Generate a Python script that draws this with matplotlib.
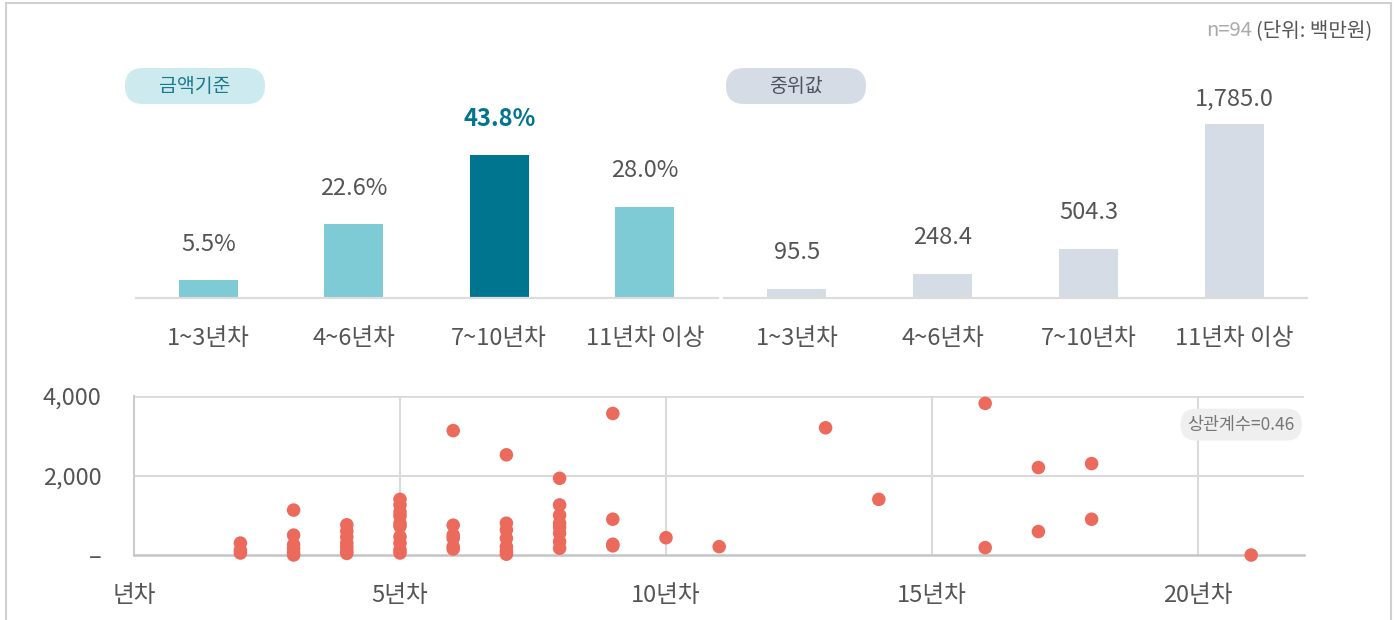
import matplotlib
matplotlib.use("Agg")
import matplotlib.pyplot as plt
from matplotlib.patches import FancyBboxPatch, Rectangle

plt.rcParams["font.family"] = ["Noto Sans CJK KR", "DejaVu Sans"]

# --- data ---
categories = ["1~3년차", "4~6년차", "7~10년차", "11년차 이상"]
share_pct = [5.5, 22.6, 43.8, 28.0]
median_amt = [95.5, 248.4, 504.3, 1785.0]
highlight_idx = 2

scatter_years = [2, 2, 2,
                 3, 3, 3, 3, 3, 3,
                 4, 4, 4, 4, 4, 4, 4,
                 5, 5, 5, 5, 5, 5, 5, 5, 5, 5,
                 6, 6, 6, 6, 6, 6,
                 7, 7, 7, 7, 7, 7, 7,
                 8, 8, 8, 8, 8, 8, 8, 8,
                 9, 9, 9, 9,
                 10, 11, 13, 14,
                 16, 16, 17, 17, 18, 18, 21]
scatter_amounts = [300, 120, 50,
                   1130, 500, 260, 160, 60, 0,
                   760, 600, 450, 300, 200, 100, 40,
                   1400, 1260, 1080, 980, 800, 720, 460, 300, 130, 50,
                   3130, 750, 500, 420, 210, 150,
                   2520, 800, 630, 420, 210, 100, 20,
                   1930, 1260, 1000, 800, 700, 545, 335, 170,
                   3560, 900, 270, 230,
                   435, 210, 3200, 1400,
                   3815, 185, 2200, 590, 2300, 900, 0]
x_ticks = [0, 5, 10, 15, 20]
x_ticklabels = ["년차", "5년차", "10년차", "15년차", "20년차"]
y_ticks = [0, 2000, 4000]
y_ticklabels = ["–", "2,000", "4,000"]
corr_text = "상관계수=0.46"

# --- style ---
W, H = 1396, 620
TEAL_LIGHT = "#7ecad5"
TEAL_DARK = "#007590"
GRAY_BAR = "#d5dce6"
DOT = "#ec6a5c"
TXT = "#555555"
GRID = "#dadada"


def rect(left, top, right, bottom):
    return [left / W, 1 - bottom / H, (right - left) / W, (bottom - top) / H]


fig = plt.figure(figsize=(W / 100, H / 100), dpi=100)
fig.patches.append(Rectangle((5.5 / W, -0.1), 1385 / W, 1.1 - 2.5 / H,
                             transform=fig.transFigure, fill=False,
                             edgecolor="#d0d0d0", linewidth=1.5))


def add_pill(left_px, text, fc, tc):
    # pill drawn in inches so the rounded ends stay circular
    pill = FancyBboxPatch((left_px / 100, (H - 104) / 100), 1.40, 0.36,
                          boxstyle="round,pad=0,rounding_size=0.18",
                          transform=fig.dpi_scale_trans, facecolor=fc, edgecolor="none")
    fig.patches.append(pill)
    fig.text((left_px + 70) / W, 1 - 86 / H, text, ha="center", va="center",
             fontsize=14, color=tc)


def bar_panel(box, values, colors, labels, ymax, label_cap, fmt, bold_idx=None):
    ax = fig.add_axes(rect(*box))
    x = range(len(values))
    ax.bar(x, values, width=0.405, color=colors)
    ax.set_xlim(-0.5, len(values) - 0.5)
    ax.set_ylim(0, ymax)
    off = ymax * 36 / 238
    for i, v in enumerate(values):
        y = min(v + off, label_cap)
        if i == bold_idx:
            ax.text(i, y, fmt(v), ha="center", va="center", fontsize=17,
                    color=TEAL_DARK, fontweight="bold")
        else:
            ax.text(i, y, fmt(v), ha="center", va="center", fontsize=17, color=TXT)
    ax.set_xticks(list(x))
    ax.set_xticklabels(labels, fontsize=17, color=TXT)
    ax.tick_params(axis="x", length=0, pad=21)
    ax.set_yticks([])
    for s in ["top", "right", "left"]:
        ax.spines[s].set_visible(False)
    ax.spines["bottom"].set_color("#dcdcdc")
    ax.spines["bottom"].set_linewidth(1.6)
    ax.patch.set_alpha(0)
    return ax


bar_colors = [TEAL_DARK if i == highlight_idx else TEAL_LIGHT for i in range(len(share_pct))]
bar_panel((135.5, 60, 717.5, 298), share_pct, bar_colors, categories, 72.9, 999,
          lambda v: f"{v:.1f}%", bold_idx=highlight_idx)
bar_panel((724, 60, 1307, 298), median_amt, [GRAY_BAR] * len(median_amt), categories, 2435, 2030,
          lambda v: f"{v:,.1f}")
add_pill(125, "금액기준", "#cdeaee", "#1a7a8e")
add_pill(726, "중위값", GRAY_BAR, "#4a5260")

unit = fig.text(1372 / W, 1 - 31 / H, "(단위: 백만원)", ha="right", va="center",
                fontsize=14.5, color=TXT)
bb = unit.get_window_extent(renderer=fig.canvas.get_renderer())
fig.text((bb.x0 - 4) / W, 1 - 31 / H, "n=94", ha="right", va="center",
         fontsize=14.5, color="#aaaaaa")

# --- scatter ---
ax = fig.add_axes(rect(134, 396, 134 + 22 * 53.2, 555))
ax.set_xlim(0, 22)
ax.set_ylim(0, 4000)
for xv in x_ticks[1:]:
    ax.axvline(xv, color=GRID, lw=1.5, zorder=0)
ax.axhline(2000, color=GRID, lw=1.5, zorder=0)
ax.axhline(4000, color=GRID, lw=2, zorder=0)
ax.scatter(scatter_years, scatter_amounts, s=95, color=DOT, edgecolors="none",
           zorder=3, clip_on=False)
ax.set_xticks(x_ticks)
ax.set_xticklabels(x_ticklabels, fontsize=17, color=TXT)
ax.set_yticks(y_ticks)
ax.set_yticklabels(y_ticklabels, fontsize=17, color=TXT)
ax.tick_params(axis="x", length=0, pad=21)
ax.tick_params(axis="y", length=0, pad=23.5)
for s in ["top", "right"]:
    ax.spines[s].set_visible(False)
ax.spines["left"].set_color("#cccccc")
ax.spines["left"].set_linewidth(1.5)
ax.spines["bottom"].set_color("#c4c4c4")
ax.spines["bottom"].set_linewidth(1.8)
ax.text(0.946, 0.82, corr_text, transform=ax.transAxes, ha="center", va="center",
        fontsize=12.5, color="#777777",
        bbox=dict(boxstyle="round,pad=0.4,rounding_size=0.9", fc="#efefef", ec="none"))

fig.savefig("out.png", dpi=100)
